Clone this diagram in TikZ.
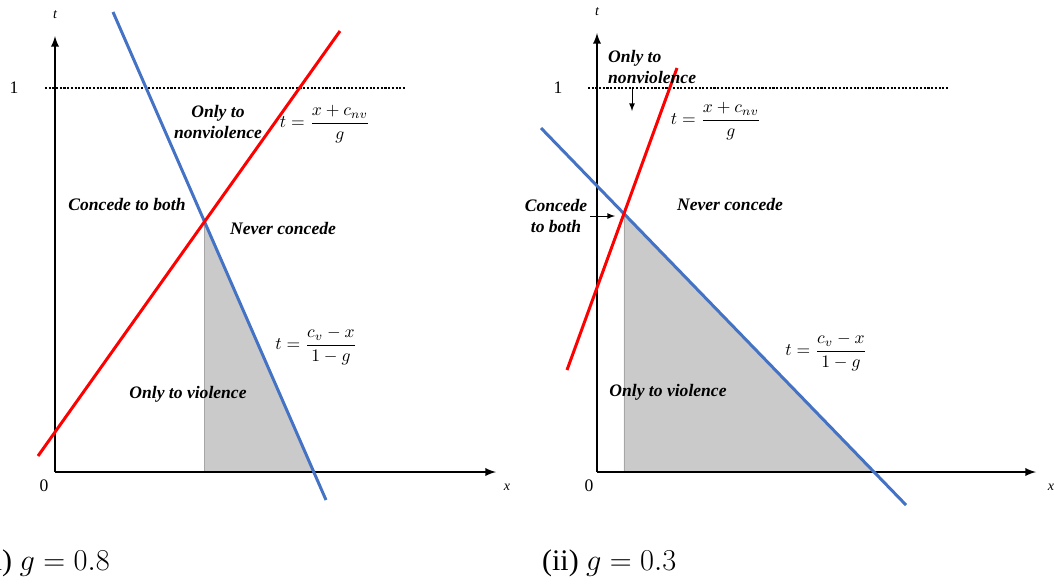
\documentclass[tikz,border=0pt]{standalone}
\usepackage{amsmath}
\usepackage{fontspec}
\setmainfont{Liberation Serif}
\usepackage{xcolor}
\usepackage{tikz}
\usetikzlibrary{arrows, calc}

\definecolor{lineblue}{RGB}{68,114,196}
\definecolor{linered}{RGB}{255,0,0}
\definecolor{areagray}{RGB}{202,202,202}

\tikzset{
    axis/.style={line width=1.1pt, -latex},
    curve/.style={line width=1.7pt},
    region/.style={font=\fontsize{10}{12}\selectfont\bfseries\itshape, align=center},
    formula/.style={font=\fontsize{10}{12}\selectfont},
    tick/.style={font=\fontsize{10}{12}\selectfont},
    pointer/.style={line width=0.5pt, -latex}
}

\begin{document}
\begin{tikzpicture}[x=0.02cm, y=-0.02cm]
    \useasboundingbox (0,0) rectangle (1054,583);

    % ---------- Panel (i) ----------
    % Axes
    \coordinate (O1) at (55,472);
    \node[tick] (zero1) at (44,486) {0};
    \node[tick, font=\fontsize{8}{10}\selectfont\itshape] (xlab1) at (507,487) {x};
    \node[tick] (one1) at (14,88) {1};
    \draw[dash pattern=on 1.2pt off 0.9pt, line width=0.7pt] (45,88) -- (405,88);

    % Lines
    \coordinate (B1a) at (113,12);
    \coordinate (B1b) at (326,500);
    \coordinate (R1a) at (38,456);
    \coordinate (R1b) at (340,31);
    \coordinate (X1) at (intersection of B1a--B1b and R1a--R1b);
    \coordinate (E1) at (intersection of B1a--B1b and O1--496,472);

    % Shaded region
    \fill[areagray] (X1) -- (X1 |- O1) -- (E1) -- cycle;
    \draw[gray!70, line width=0.5pt] (X1) -- (X1 |- O1);
    \draw[axis] (O1) -- (55,36) node[above=6pt, font=\fontsize{8}{10}\selectfont\itshape] {t};
    \draw[axis] (O1) -- (496,472);

    \draw[curve, lineblue] (B1a) -- (B1b);
    \draw[curve, linered] (R1a) -- (R1b);

    % Labels
    \node[region] (nonv1) at (218,122) {Only to\\nonviolence};
    \node[region] (both1) at (127,204) {Concede to both};
    \node[region] (never1) at (283,228) {Never concede};
    \node[region] (viol1) at (188,394) {Only to violence};
    \node[formula] (fnv1) at (325,124) {$t=\dfrac{x+c_{nv}}{g}$};
    \node[formula] (fv1) at (316,346) {$t=\dfrac{c_v-x}{1-g}$};
    \node[anchor=east, font=\fontsize{17}{19}\selectfont] (cap1) at (116,563) {(i) $g = 0.8$};

    % ---------- Panel (ii) ----------
    % Axes
    \coordinate (O2) at (597,472);
    \node[tick] (zero2) at (589,486) {0};
    \node[tick, font=\fontsize{8}{10}\selectfont\itshape] (xlab2) at (1051,487) {x};
    \node[tick] (one2) at (558,88) {1};
    \draw[dash pattern=on 1.2pt off 0.9pt, line width=0.7pt] (588,88) -- (948,88);

    % Lines
    \coordinate (B2a) at (541,128);
    \coordinate (B2b) at (906,505);
    \coordinate (R2a) at (567,370);
    \coordinate (R2b) at (677,68);
    \coordinate (X2) at (intersection of B2a--B2b and R2a--R2b);
    \coordinate (E2) at (intersection of B2a--B2b and O2--1036,472);

    % Shaded region
    \fill[areagray] (X2) -- (X2 |- O2) -- (E2) -- cycle;
    \draw[gray!70, line width=0.5pt] (X2) -- (X2 |- O2);
    \draw[axis] (O2) -- (597,33) node[above=6pt, font=\fontsize{8}{10}\selectfont\itshape] {t};
    \draw[axis] (O2) -- (1036,472);

    \draw[curve, lineblue] (B2a) -- (B2b);
    \draw[curve, linered] (R2a) -- (R2b);

    % Labels
    \node[region, align=left, anchor=west] (nonv2) at (602,67) {Only to\\nonviolence};
    \coordinate (p2a) at (632,87);
    \coordinate (p2b) at (632,111);
    \draw[pointer] (p2a) -- (p2b);
    \node[region] (both2) at (556,216) {Concede\\to both};
    \coordinate (p2c) at (590,216);
    \coordinate (p2d) at (615,216);
    \draw[pointer] (p2c) -- (p2d);
    \node[region] (never2) at (730,204) {Never concede};
    \node[region] (viol2) at (668,392) {Only to violence};
    \node[formula] (fnv2) at (716,121) {$t=\dfrac{x+c_{nv}}{g}$};
    \node[formula] (fv2) at (826,352) {$t=\dfrac{c_v-x}{1-g}$};
    \node[anchor=west, font=\fontsize{17}{19}\selectfont] (cap2) at (536,563) {(ii) $g = 0.3$};
\end{tikzpicture}
\end{document}
